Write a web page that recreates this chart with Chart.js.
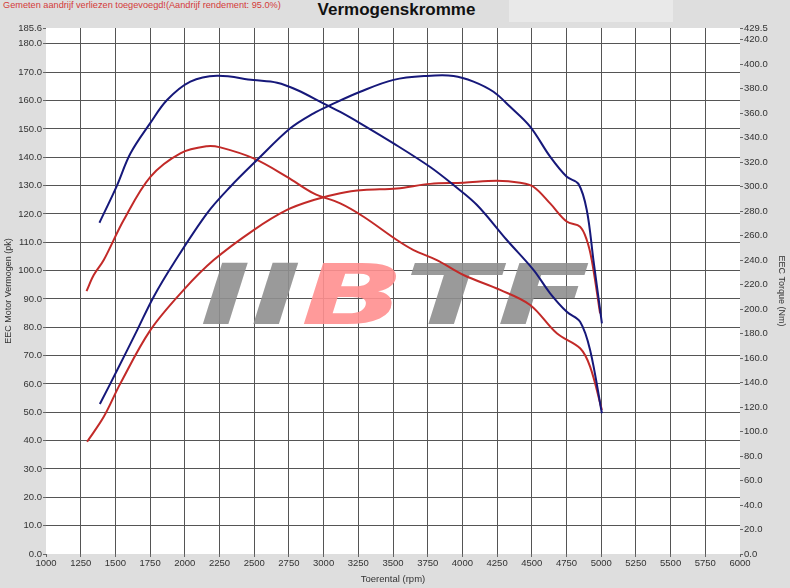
<!DOCTYPE html>
<html>
<head>
<meta charset="utf-8">
<script src="https://cdn.jsdelivr.net/npm/chart.js@4.4.1/dist/chart.umd.min.js"></script>
<style>
  body { margin: 0; background: #dedede; font-family: "Liberation Sans", Arial, sans-serif; }
  #wrap { position: relative; width: 790px; height: 588px; }
  #note { position: absolute; left: 3px; top: 0px; font-size: 9.2px; color: #d43a3a; }
  #title { position: absolute; left: 0; width: 793px; top: 0px; text-align: center; font-size: 17px; font-weight: bold; color: #111; }
  #box { position: absolute; left: 509px; top: 0; width: 164px; height: 22px; background: #e9e9e9; }
  canvas { position: absolute; left: 0; top: 0; }
</style>
</head>
<body>
<div id="wrap">
  <div id="box"></div>
  <div id="note">Gemeten aandrijf verliezen toegevoegd!(Aandrijf rendement: 95.0%)</div>
  <div id="title">Vermogenskromme</div>
  <canvas id="myChart" width="790" height="588"></canvas>
</div>
<script>
var ctx = document.getElementById('myChart');

// tuned (blue)
var bluePowerRpm = [1388, 1513, 1657, 1776, 1920, 2160, 2328, 2520, 2760, 2928, 3048, 3264, 3504, 3744, 3936, 4080, 4224, 4344, 4488, 4632, 4752, 4836, 4896, 4944, 5005];
var bluePower    = [52.9, 64.9, 79.0, 90.8, 102.6, 120.2, 129.6, 139.0, 150.2, 155.5, 158.4, 163.1, 167.3, 168.7, 168.7, 166.7, 163.1, 157.8, 150.8, 140.2, 133.1, 130.6, 121.4, 103.7, 81.4];
var blueTorqueRpm = [1385, 1508, 1608, 1752, 1872, 2040, 2232, 2494, 2665, 2809, 2998, 3120, 3264, 3504, 3768, 3936, 4105, 4320, 4512, 4632, 4752, 4848, 4920, 5005];
var blueTorque    = [270.5, 300, 327, 352, 370.7, 385.7, 390.5, 387, 384.8, 378.9, 368, 361, 351.7, 335.3, 316, 301.3, 285, 256.4, 232, 212.9, 197.8, 189.7, 166.6, 114.9];

// stock (red)
var redPowerRpm = [1296, 1416, 1536, 1752, 1992, 2208, 2496, 2736, 2928, 3120, 3288, 3528, 3768, 4008, 4248, 4416, 4512, 4632, 4752, 4848, 4896, 4932, 4992];
var redPower    = [39.6, 48.4, 60.2, 79.0, 93.2, 103.7, 114.3, 121.4, 124.9, 127.3, 128.4, 129.0, 130.6, 131.0, 131.7, 131.0, 129.6, 123.7, 117.3, 115.5, 110.8, 103.7, 84.9];
var redTorqueRpm = [1292, 1344, 1416, 1560, 1752, 1968, 2160, 2256, 2496, 2736, 2928, 3120, 3288, 3528, 3648, 3816, 4008, 4272, 4488, 4680, 4848, 4920, 5005];
var redTorque    = [214.7, 227.8, 240, 272.7, 308, 327.2, 333, 332, 323, 308, 294.5, 286.3, 275.4, 256.4, 248.2, 240, 227.8, 215.6, 203.3, 180.2, 168, 153, 117.6];

var powerTicks = [0, 10, 20, 30, 40, 50, 60, 70, 80, 90, 100, 110, 120, 130, 140, 150, 160, 170, 180, 185.6];
var torqueTicks = [0, 20, 40, 60, 80, 100, 120, 140, 160, 180, 200, 220, 240, 260, 280, 300, 320, 340, 360, 380, 400, 420, 429.5];

function pts(xs, ys) {
  return xs.map(function (x, i) { return { x: x, y: ys[i] }; });
}

var FONT = '"Liberation Sans", Arial, sans-serif';
var BLUE = '#16187a';
var RED = '#c22a28';

var plotBg = {
  id: 'plotBg',
  beforeDraw: function (chart) {
    var a = chart.chartArea, c = chart.ctx;
    c.save();
    c.fillStyle = '#ffffff';
    c.fillRect(a.left, a.top, a.right - a.left, a.bottom - a.top);
    c.restore();
  },
  beforeDatasetsDraw: function (chart) {
    // watermark logo
    var c = chart.ctx;
    var parts = [['I', '#8f8f8f'], ['I', '#8f8f8f'], ['B', '#ff8f8f'], ['T', '#8f8f8f'], ['F', '#8f8f8f']];
    c.save();
    c.font = 'italic bold 84px "DejaVu Sans", ' + FONT;
    var total = 0;
    parts.forEach(function (p) { total += c.measureText(p[0]).width; });
    var sx = 390 / total;
    c.translate(200, 324);
    c.scale(sx, 1);
    c.globalAlpha = 0.9;
    var x = 0;
    parts.forEach(function (p) {
      c.fillStyle = p[1];
      c.fillText(p[0], x, 0);
      x += c.measureText(p[0]).width;
    });
    c.restore();
  }
};

function edgeGrid(color) {
  return function (g) {
    var n = g.scale.ticks.length;
    return (g.index === 0 || g.index === n - 1) ? 'rgba(0,0,0,0)' : color;
  };
}

var lineStyle = { fill: false, borderWidth: 2, pointRadius: 0, tension: 0.35 };

var chart = new Chart(ctx, {
  type: 'line',
  data: {
    datasets: [
      Object.assign({ label: 'Vermogen tuned', data: pts(bluePowerRpm, bluePower), borderColor: BLUE, yAxisID: 'y' }, lineStyle),
      Object.assign({ label: 'Torque tuned', data: pts(blueTorqueRpm, blueTorque), borderColor: BLUE, yAxisID: 'y1' }, lineStyle),
      Object.assign({ label: 'Vermogen origineel', data: pts(redPowerRpm, redPower), borderColor: RED, yAxisID: 'y' }, lineStyle),
      Object.assign({ label: 'Torque origineel', data: pts(redTorqueRpm, redTorque), borderColor: RED, yAxisID: 'y1' }, lineStyle)
    ]
  },
  options: {
    responsive: false,
    animation: false,
    layout: { padding: { top: 28, left: 0, right: 0, bottom: 0 } },
    plugins: { legend: { display: false }, tooltip: { enabled: false } },
    scales: {
      x: {
        type: 'linear',
        min: 1000,
        max: 6000,
        border: { display: false },
        grid: { color: edgeGrid('#555555'), tickColor: '#666', tickLength: 3 },
        ticks: { stepSize: 250, autoSkip: false, maxRotation: 0, padding: 1, color: '#333', font: { family: FONT, size: 9.5 },
          callback: function (v) { return String(v); } },
        title: { display: true, text: 'Toerental (rpm)', color: '#333', font: { family: FONT, size: 9.5 }, padding: { top: 0, bottom: 3 } },
        afterFit: function (s) { s.height = 34; }
      },
      y: {
        position: 'left',
        min: 0,
        max: 185.6,
        border: { display: false },
        grid: { color: edgeGrid('#555555'), tickColor: '#666', tickLength: 3 },
        afterBuildTicks: function (s) { s.ticks = powerTicks.map(function (v) { return { value: v }; }); },
        ticks: { autoSkip: false, padding: 1, color: '#333', font: { family: FONT, size: 9.5 },
          callback: function (v) { return Number(v).toFixed(1); } },
        title: { display: true, text: 'EEC Motor Vermogen (pk)', color: '#333', font: { family: FONT, size: 9 }, padding: { top: 3, bottom: 0 } },
        afterFit: function (s) { s.width = 46; }
      },
      y1: {
        position: 'right',
        min: 0,
        max: 429.5,
        border: { display: false },
        grid: { drawOnChartArea: false, tickColor: '#666', tickLength: 3 },
        afterBuildTicks: function (s) { s.ticks = torqueTicks.map(function (v) { return { value: v }; }); },
        ticks: { autoSkip: false, padding: 1, color: '#333', font: { family: FONT, size: 9.5 },
          callback: function (v) { return Number(v).toFixed(1); } },
        title: { display: true, text: 'EEC Torque (Nm)', color: '#333', font: { family: FONT, size: 9 }, padding: { top: 3, bottom: 0 } },
        afterFit: function (s) { s.width = 50; }
      }
    }
  },
  plugins: [plotBg]
});
</script>
</body>
</html>
